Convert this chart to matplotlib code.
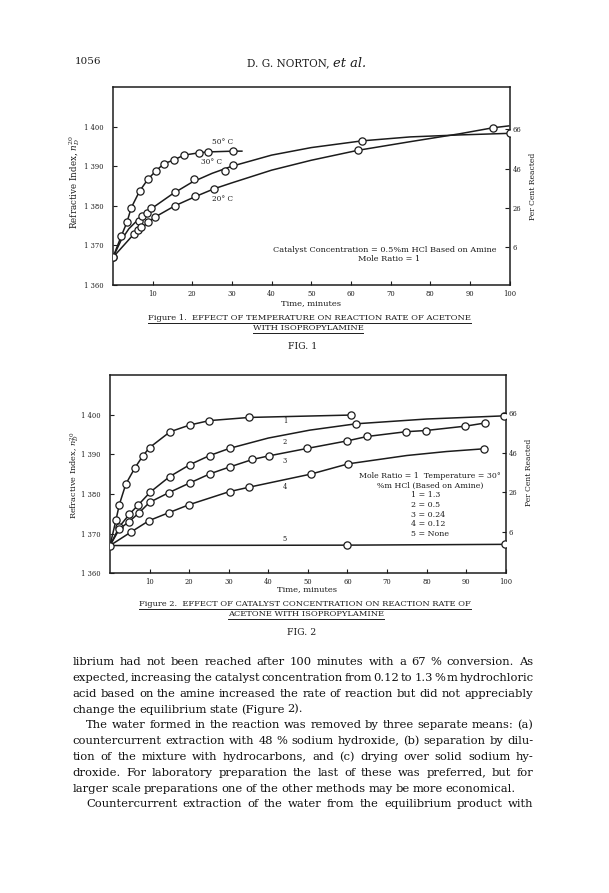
import matplotlib
matplotlib.use("Agg")
import matplotlib.pyplot as plt
from matplotlib.lines import Line2D

plt.rcParams["font.family"] = ["DejaVu Serif"]
plt.rcParams["mathtext.fontset"] = "dejavuserif"

W, H = 609, 893
INK = "#1c1c1c"

# ---------------- Fig. 1 : time (min) vs refractive index n_D^20
t50 = [0, 2.1, 3.5, 4.6, 6.7, 8.8, 10.8, 12.8, 15.4, 17.9, 21.8, 23.9, 30.3]
n50 = [1.3670, 1.3724, 1.3758, 1.3795, 1.3837, 1.3867, 1.3888, 1.3906,
       1.3916, 1.3928, 1.3934, 1.3936, 1.3938]
t50_line = t50 + [32.7]
n50_line = n50 + [1.3938]

t30 = [6.5, 7.4, 8.5, 9.7, 15.6, 20.5, 28.2, 30.3, 62.8, 100]
n30 = [1.3762, 1.3774, 1.3783, 1.3794, 1.3834, 1.3867, 1.3888, 1.3904, 1.3964, 1.3983]
t30_line = [0, 2, 4, 6, 8, 10, 15, 20, 25, 30, 40, 50, 62.8, 75, 87.5, 100]
n30_line = [1.3670, 1.3712, 1.3742, 1.3762, 1.3779, 1.3795, 1.3830, 1.3860,
            1.3882, 1.3900, 1.3928, 1.3947, 1.3964, 1.3974, 1.3979, 1.3983]

t20 = [5.3, 6.3, 7.1, 8.8, 10.5, 15.6, 20.7, 25.5, 61.7, 95.8]
n20 = [1.3729, 1.3739, 1.3746, 1.3758, 1.3771, 1.3800, 1.3825, 1.3843, 1.3940, 1.3997]
t20_line = [0, 5.3, 10.5, 15.6, 20.7, 25.5, 30, 40, 50, 61.7, 75, 87.5, 95.8, 100]
n20_line = [1.3670, 1.3729, 1.3771, 1.3800, 1.3823, 1.3843, 1.3858, 1.3890,
            1.3915, 1.3940, 1.3962, 1.3982, 1.3997, 1.4002]

# ---------------- Fig. 2 : catalyst concentration series 1..5
t_c1 = [0, 1.5, 2.35, 4.0, 6.3, 8.3, 10.0, 15.2, 20.2, 25.1, 35.2, 60.9]
n_c1 = [1.3670, 1.3734, 1.3773, 1.3825, 1.3866, 1.3896, 1.3917, 1.3957,
        1.3974, 1.3985, 1.3993, 1.3999]

t_c2 = [2.4, 4.9, 7.2, 10.2, 15.1, 20.2, 25.2, 30.2, 62.2, 99.6]
n_c2 = [1.3718, 1.3749, 1.3773, 1.3805, 1.3844, 1.3874, 1.3897, 1.3915, 1.3977, 1.3997]
t_c2_line = [0, 2.4, 4.9, 7.2, 10.2, 15.1, 20.2, 25.2, 30.2, 40, 50.5, 62.2, 80, 99.6]
n_c2_line = [1.3670, 1.3718, 1.3749, 1.3773, 1.3805, 1.3844, 1.3874, 1.3897,
             1.3915, 1.3941, 1.3961, 1.3977, 1.3989, 1.3997]

t_c3 = [2.4, 4.8, 7.4, 10.0, 14.8, 20.2, 25.3, 30.2, 36.0, 40.1, 49.9,
        60.0, 65.0, 74.8, 79.8, 89.8, 94.8]
n_c3 = [1.3712, 1.3730, 1.3753, 1.3779, 1.3803, 1.3828, 1.3851, 1.3868, 1.3887,
        1.3896, 1.3915, 1.3934, 1.3945, 1.3957, 1.3960, 1.3971, 1.3979]

t_c4 = [5.3, 9.9, 14.9, 20.0, 30.2, 35.1, 50.7, 60.2, 94.6]
n_c4 = [1.3704, 1.3733, 1.3753, 1.3773, 1.3806, 1.3817, 1.3850, 1.3876, 1.3914]
t_c4_line = [0] + t_c4[:8] + [75, 85, 94.6]
n_c4_line = [1.3670] + n_c4[:8] + [1.3897, 1.3907, 1.3914]

t_c5 = [0, 60.0, 99.8]
n_c5 = [1.3670, 1.3671, 1.3673]

ri_ticks = [1.360, 1.370, 1.380, 1.390, 1.400]
ri_labels = ["1 360", "1 370", "1 380", "1 390", "1 400"]
pct_ticks = [6, 26, 46, 66]
time_ticks = [10, 20, 30, 40, 50, 60, 70, 80, 90, 100]

fig = plt.figure(figsize=(W / 100, H / 100), dpi=100)
fig.patch.set_facecolor("white")
R = fig.canvas.get_renderer()


def put(x, y, s, size, **kw):
    kw.setdefault("color", INK)
    return fig.text(x / W, 1 - y / H, s, fontsize=size, **kw)


def fit(t, target, along="w"):
    bb = t.get_window_extent(R)
    cur = bb.width if along == "w" else bb.height
    t.set_fontsize(t.get_fontsize() * target / cur)
    return t


def underline(t, dy=0.5):
    bb = t.get_window_extent(R)
    y = (bb.y0 - dy) / H
    fig.add_artist(Line2D([bb.x0 / W, bb.x1 / W], [y, y], color=INK, lw=0.7))


def chart(left, top, right, bottom, pct0, pct_slope):
    ax = fig.add_axes([left / W, 1 - bottom / H, (right - left) / W, (bottom - top) / H])
    ax.set_xlim(0, 100)
    ax.set_ylim(1.360, 1.410)
    ax.set_xticks(time_ticks)
    ax.set_xticklabels([str(v) for v in time_ticks])
    ax.set_yticks(ri_ticks)
    ax.set_yticklabels(ri_labels)
    ax.tick_params(axis="both", direction="in", length=3, width=0.8,
                   labelsize=4.9, colors=INK)
    ax.tick_params(axis="y", pad=7)
    ax.tick_params(axis="x", pad=3.5)
    for s in ax.spines.values():
        s.set_linewidth(1.1)
        s.set_color(INK)
    ax2 = ax.twinx()
    ax2.set_ylim(1.360, 1.410)
    ax2.set_yticks([pct0 + pct_slope * p for p in pct_ticks])
    ax2.set_yticklabels([str(p) for p in pct_ticks])
    ax2.tick_params(axis="y", direction="in", length=3, width=0.8,
                    labelsize=4.9, pad=2, colors=INK)
    for s in ax2.spines.values():
        s.set_visible(False)
    return ax


def curve(ax, tl, nl, tp=None, npts=None):
    ax.plot(tl, nl, color=INK, lw=1.1, zorder=2, solid_capstyle="butt")
    if tp is not None:
        ax.plot(tp, npts, "o", ms=5.2, mfc="white", mec=INK, mew=0.9, zorder=3)


# ---------------- page header
fit(put(75, 62, "1056", 8, va="center"), 26.7)
hdr = fit(put(246.7, 63.5, "D. G. NORTON,", 7, va="center"), 83)
fit(put(333.3, 63.5, "et al.", 8, va="center", style="italic"), 33)

# ---------------- Figure 1
ax1 = chart(113, 87, 509.5, 285, 1.3665, 0.000497)
curve(ax1, t50_line, n50_line, t50, n50)
curve(ax1, t30_line, n30_line, t30, n30)
curve(ax1, t20_line, n20_line, t20, n20)
ax1.plot([0], [1.3670], "o", ms=5.2, mfc="white", mec=INK, mew=0.9, zorder=4)
for tt, nn, lab in [(27.7, 1.3962, "50° C"), (24.9, 1.3911, "30° C"), (27.7, 1.3816, "20° C")]:
    ax1.text(tt, nn, lab, fontsize=5.3, ha="center", va="center", color=INK)

cat = fit(put(385, 249.5, "Catalyst Concentration = 0.5%m HCl Based on Amine", 6,
              ha="center", va="center"), 224)
put(389, 259, "Mole Ratio = 1", cat.get_fontsize(), ha="center", va="center")

fit(put(75, 182, r"Refractive Index, $n_D^{20}$", 6, rotation=90,
        ha="center", va="center"), 95, "h")
fit(put(533, 186, "Per Cent Reacted", 6, rotation=90, ha="center", va="center"), 68, "h")
fit(put(311, 303.5, "Time, minutes", 6, ha="center", va="center"), 60.7)

c1 = fit(put(148, 318.5, "Figure 1.  EFFECT OF TEMPERATURE ON REACTION RATE OF ACETONE",
             6, va="center"), 323.7)
underline(c1)
c2 = put(308, 328, "WITH ISOPROPYLAMINE", c1.get_fontsize(), ha="center", va="center")
underline(c2)
fit(put(302.7, 346, "FIG. 1", 8, ha="center", va="center"), 29)

# ---------------- Figure 2
ax2 = chart(110, 375, 505.7, 573.3, 1.3673, 0.000503)
curve(ax2, t_c1, n_c1, t_c1[1:], n_c1[1:])
curve(ax2, t_c2_line, n_c2_line, t_c2, n_c2)
curve(ax2, [0] + t_c3, [1.3670] + n_c3, t_c3, n_c3)
curve(ax2, t_c4_line, n_c4_line, t_c4, n_c4)
curve(ax2, t_c5, n_c5, t_c5[1:], n_c5[1:])
ax2.plot([0], [1.3670], "o", ms=5.2, mfc="white", mec=INK, mew=0.9, zorder=4)
for nn, lab in [(1.3984, "1"), (1.3932, "2"), (1.3882, "3"), (1.3817, "4"), (1.3687, "5")]:
    ax2.text(44.2, nn, lab, fontsize=4.8, ha="center", va="center", color=INK)

m1 = fit(put(429.7, 476, "Mole Ratio = 1  Temperature = 30°", 6, ha="center", va="center"), 140.7)
m2 = fit(put(430, 486, "%m HCl (Based on Amine)", 6, ha="center", va="center"), 106.7)
for yy, lab in [(495.3, "1 = 1.3"), (505, "2 = 0.5"), (514.7, "3 = 0.24"),
                (524.3, "4 = 0.12"), (534, "5 = None")]:
    put(411, yy, lab, m2.get_fontsize(), va="center")

fit(put(75, 475, r"Refractive Index, $n_D^{20}$", 6, rotation=90,
        ha="center", va="center"), 88, "h")
fit(put(529, 472.5, "Per Cent Reacted", 6, rotation=90, ha="center", va="center"), 68, "h")
fit(put(306.7, 589.5, "Time, minutes", 6, ha="center", va="center"), 60.7)

d1 = fit(put(139, 604.5, "Figure 2.  EFFECT OF CATALYST CONCENTRATION ON REACTION RATE OF",
             6, va="center"), 334)
underline(d1)
d2 = put(306, 614, "ACETONE WITH ISOPROPYLAMINE", d1.get_fontsize(), ha="center", va="center")
underline(d2)
fit(put(301.7, 632.5, "FIG. 2", 8, ha="center", va="center"), 29)

# ---------------- body text (justified)
body = [
    ("librium had not been reached after 100 minutes with a 67 % conversion. As", 0, True),
    ("expected, increasing the catalyst concentration from 0.12 to 1.3 % m hydrochloric", 0, True),
    ("acid based on the amine increased the rate of reaction but did not appreciably", 0, True),
    ("change the equilibrium state (Figure 2).", 0, False),
    ("The water formed in the reaction was removed by three separate means: (a)", 1, True),
    ("countercurrent extraction with 48 % sodium hydroxide, (b) separation by dilu-", 0, True),
    ("tion of the mixture with hydrocarbons, and (c) drying over solid sodium hy-", 0, True),
    ("droxide. For laboratory preparation the last of these was preferred, but for", 0, True),
    ("larger scale preparations one of the other methods may be more economical.", 0, False),
    ("Countercurrent extraction of the water from the equilibrium product with", 1, True),
]
X0, X1, INDENT = 72.7, 533.3, 13.5

# size the body font so the last full line of paragraph 2 spans 440 px
# with a tight (0.24 em) word space, as in the printed page
ref_words = body[8][0].split(" ")
ps = [put(0, 0, w, 8) for w in ref_words]
wsum = sum(p.get_window_extent(R).width for p in ps)
for p in ps:
    p.remove()
em8 = 8 * 100 / 72
BS = 8 * 440 / (wsum + 0.24 * em8 * (len(ref_words) - 1))
SPACE = 0.24 * BS * 100 / 72

for i, (line, ind, just) in enumerate(body):
    y = 665.3 + i * 15.78
    words = line.split(" ")
    ts = [put(0, y, w, BS, va="baseline", color="#111111") for w in words]
    widths = [t.get_window_extent(R).width for t in ts]
    x = X0 + INDENT * ind
    gap = (X1 - x - sum(widths)) / (len(words) - 1) if just else SPACE
    for t, w in zip(ts, widths):
        t.set_x(x / W)
        x += w + gap

fig.savefig("out.png", dpi=100, facecolor="white")
